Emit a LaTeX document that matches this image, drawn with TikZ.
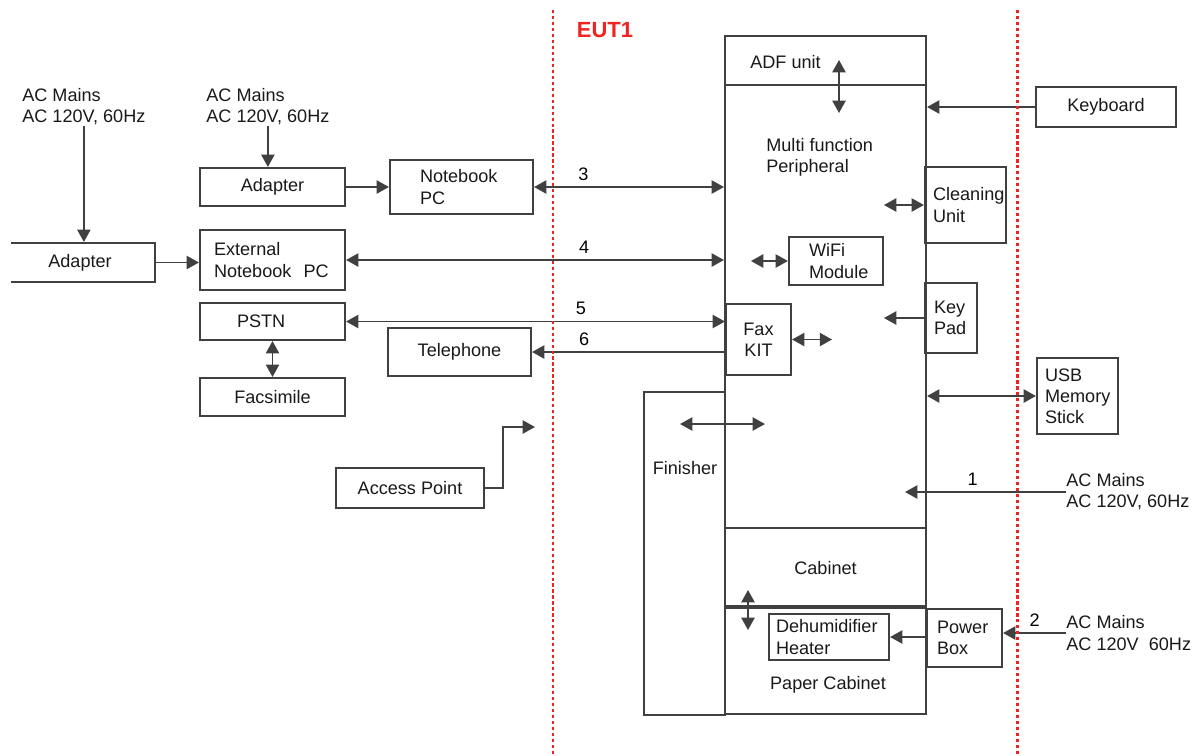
\documentclass[tikz,border=0pt]{standalone}
\usepackage{fontspec}
\setmainfont{Liberation Sans}
\usetikzlibrary{arrows.meta,positioning}
\definecolor{eutred}{RGB}{240,35,35}

\begin{document}
\begin{tikzpicture}[x=0.02cm,y=-0.02cm,font=\fontsize{10.3}{12}\selectfont]
    \tikzstyle{box}=[draw=black!75,line width=1.2pt,rectangle,inner sep=0,text=black!90]
    \tikzstyle{txt}=[inner sep=0,align=left,text=black!90]
    \tikzstyle{arr}=[-{Triangle[length=7pt,width=7.5pt]},line width=1pt,draw=black!75]
    \tikzstyle{darr}=[{Triangle[length=7pt,width=7.5pt]}-{Triangle[length=7pt,width=7.5pt]},line width=1pt,draw=black!75]
    \tikzstyle{eut}=[draw=eutred,line width=1.7pt,dash pattern=on 1.8pt off 1.6pt]

    \useasboundingbox (0,0) rectangle (1197,755);
    \clip (11,0) rectangle (1197,755);

    \node[txt,anchor=west] (acl) at (22,107) {AC Mains\\AC 120V, 60Hz};
    \node[txt,anchor=west] (acu) at (206,107) {AC Mains\\AC 120V, 60Hz};
    \node[box,minimum width=3cm,minimum height=0.78cm] (adp1) at (80,262.5) {Adapter};
    \node[box,minimum width=2.9cm,minimum height=0.76cm] (adp2) at (272.5,187) {Adapter};
    \node[box,align=left,text width=1.66cm,inner xsep=0.6cm,minimum height=1.08cm] (nbpc) at (461.5,187) {Notebook\\PC};
    \node[box,align=left,text width=2.34cm,inner xsep=0.28cm,minimum height=1.2cm] (extpc) at (272.5,260) {External\\Notebook~ PC};
    \node[box,align=left,text width=1.42cm,inner xsep=0.74cm,minimum height=0.74cm] (pstn) at (272.5,321.5) {PSTN};
    \node[box,minimum width=2.9cm,minimum height=0.76cm] (facs) at (272.5,397) {Facsimile};
    \node[box,minimum width=2.86cm,minimum height=0.96cm] (tel) at (459.5,352) {Telephone};
    \node[box,minimum width=2.96cm,minimum height=0.8cm] (ap) at (410,488) {Access Point};

    \node[text=eutred,font=\fontsize{12.5}{14}\bfseries\selectfont] (eut) at (605,30) {EUT1};

    \node[box,minimum width=1.62cm,minimum height=6.46cm] (fin) at (684.5,553.5) {};
    \node[txt] (fint) at (685,468) {Finisher};
    \node[box,minimum width=4.02cm,minimum height=0.98cm] (adf) at (825.5,60.5) {};
    \node[txt,anchor=west] (adft) at (750,62) {ADF unit};
    \node[box,minimum width=4.02cm,minimum height=8.86cm] (mfp) at (825.5,306.5) {};
    \node[txt,anchor=west] (mfpt) at (766,157) {Multi function\\Peripheral};
    \node[box,minimum width=4.02cm,minimum height=1.6cm] (cab) at (825.5,568) {Cabinet};
    \node[box,minimum width=4.02cm,minimum height=2.12cm] (pcab) at (825.5,661) {};
    \node[txt] (pcabt) at (828,685) {Paper Cabinet};
    \draw[line width=2.2pt,draw=black!75] (pcab.north west) -- (pcab.north east);

    \node[box,align=left,text width=1.08cm,inner xsep=0.4cm,minimum height=0.96cm] (wifi) at (836,261) {WiFi\\Module};
    \node[box,align=center,minimum width=1.3cm,minimum height=1.42cm] (faxkit) at (758.5,339.5) {Fax\\KIT};
    \node[box,align=left,text width=1.3cm,inner xsep=0.16cm,minimum height=1.52cm] (clean) at (965.5,205) {Cleaning\\Unit};
    \node[box,align=left,text width=0.68cm,inner xsep=0.18cm,minimum height=1.4cm] (keypad) at (951,318) {Key\\Pad};
    \node[box,minimum width=2.8cm,minimum height=0.8cm] (kbd) at (1106,107) {Keyboard};
    \node[box,align=left,text width=1.3cm,inner xsep=0.16cm,minimum height=1.52cm] (usb) at (1077.5,396) {USB\\Memory\\Stick};
    \node[box,align=left,text width=2.12cm,inner xsep=0.14cm,minimum height=0.92cm] (dehum) at (829,637) {Dehumidifier\\Heater};
    \node[box,align=left,text width=1.1cm,inner xsep=0.2cm,minimum height=1.16cm] (pwr) at (964.5,638) {Power\\Box};
    \node[txt,anchor=west] (ac1) at (1066,492) {AC Mains\\AC 120V, 60Hz};
    \node[txt,anchor=west] (ac2) at (1066,633) {AC Mains\\AC 120V~ 60Hz};

    \coordinate (apend) at (535,427);
    \coordinate (fina) at (680,424);
    \coordinate (finb) at (765,424);
    \coordinate (adfa) at (839,60);
    \coordinate (adfb) at (839,113);
    \coordinate (caba) at (748,590);
    \coordinate (cabb) at (748,630);
    \coordinate (ac1end) at (905,492);

    \draw[arr] (acl.south) -- (acl.south |- adp1.north);
    \draw[arr] (acu.south) -- (acu.south |- adp2.north);
    \draw[arr] (adp1.east) -- (adp1.east -| extpc.west);
    \draw[arr] (adp2.east) -- (nbpc.west);
    \draw[darr] (nbpc.east) -- (nbpc.east -| mfp.west) node[pos=0.26,above]{3};
    \draw[darr] (extpc.east) -- (extpc.east -| mfp.west) node[pos=0.63,above]{4};
    \draw[darr] (pstn.east) -- (pstn.east -| faxkit.west) node[pos=0.62,above]{5};
    \draw[arr] (tel.east -| faxkit.west) -- (tel.east) node[pos=0.73,above]{6};
    \draw[darr] (pstn.south) -- (facs.north);
    \draw[arr] (ap.east) -- ++(18,0) |- (apend);
    \draw[darr] (fina) -- (finb);
    \draw[darr] (adfa) -- (adfb);
    \draw[darr] (wifi.west) -- ++(-37,0);
    \draw[darr] (faxkit.east) -- ++(40,0);
    \draw[darr] (clean.west) -- ++(-40,0);
    \draw[arr] (keypad.west) -- ++(-40,0);
    \draw[arr] (kbd.west) -- (kbd.west -| mfp.east);
    \draw[darr] (usb.west) -- (usb.west -| mfp.east);
    \draw[arr] (ac1.west) -- (ac1end) node[pos=0.58,above]{1};
    \draw[arr] (ac2.west) -- (ac2.west -| pwr.east) node[midway,above]{2};
    \draw[arr] (dehum.east -| pwr.west) -- (dehum.east);
    \draw[darr] (caba) -- (cabb);

    \draw[eut] (553,10) -- (553,755);
    \draw[eut] (1017,10) -- (1017,755);
\end{tikzpicture}
\end{document}
